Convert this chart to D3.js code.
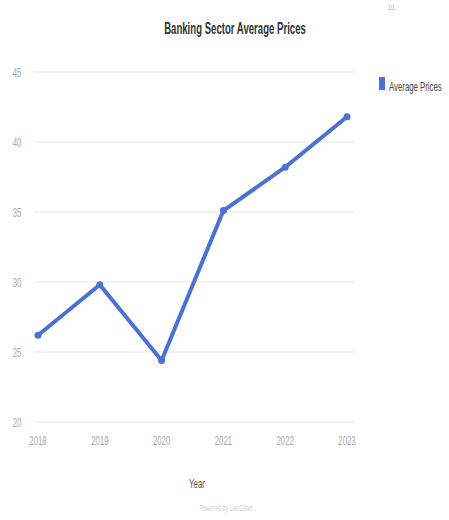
<!DOCTYPE html>
<html>
<head>
<meta charset="utf-8">
<script src="https://cdn.jsdelivr.net/npm/d3@7"></script>
<style>
	body { margin: 0; background: #fff; }
	text { font-family: "Liberation Sans", Arial, sans-serif; }
</style>
</head>
<body>
<div id="chart"></div>
<script>
	var years = ["2018", "2019", "2020", "2021", "2022", "2023"];
	var prices = [26.2, 29.8, 24.4, 35.1, 38.2, 41.8];
	var yTicks = [20, 25, 30, 35, 40, 45];
	var seriesName = "Average Prices";

	var width = 449, height = 520;
	var margin = { top: 72, right: 102, bottom: 98, left: 38 };
	var squeeze = 0.6; //reference text looks horizontally condensed

	var svg = d3.select("#chart").append("svg")
		.attr("width", width)
		.attr("height", height);

	var x = d3.scalePoint()
		.domain(years)
		.range([margin.left, width - margin.right]);

	var y = d3.scaleLinear()
		.domain([20, 45])
		.range([height - margin.bottom, margin.top]);

	var color = "#4a72d2";

	//Place a condensed text at (px, py)
	function squished(sel, px, py) {
		return sel.attr("transform", "translate(" + px + "," + py + ") scale(" + squeeze + ",1)");
	}

	//Gridlines
	svg.append("g").selectAll("line")
		.data(yTicks)
		.enter().append("line")
		.attr("x1", margin.left - 4)
		.attr("x2", width - margin.right + 8)
		.attr("y1", function(d) { return y(d); })
		.attr("y2", function(d) { return y(d); })
		.style("stroke", "#e8e8e8")
		.style("stroke-width", 1);

	//Y labels
	svg.append("g").selectAll("text")
		.data(yTicks)
		.enter().append("text")
		.attr("transform", function(d) { return "translate(17," + (y(d) + 5) + ") scale(" + squeeze + ",1)"; })
		.style("text-anchor", "middle")
		.style("font-size", "13px")
		.style("fill", "#a8a8a8")
		.text(function(d) { return d; });

	//X labels
	svg.append("g").selectAll("text")
		.data(years)
		.enter().append("text")
		.attr("transform", function(d) { return "translate(" + x(d) + "," + (y(20) + 23) + ") scale(" + squeeze + ",1)"; })
		.style("text-anchor", "middle")
		.style("font-size", "13px")
		.style("fill", "#a8a8a8")
		.text(function(d) { return d; });

	//Line
	var line = d3.line()
		.x(function(d, i) { return x(years[i]); })
		.y(function(d) { return y(d); });

	svg.append("path")
		.datum(prices)
		.attr("d", line)
		.style("fill", "none")
		.style("stroke", color)
		.style("stroke-width", 4)
		.style("stroke-linejoin", "round");

	svg.append("g").selectAll("circle")
		.data(prices)
		.enter().append("circle")
		.attr("cx", function(d, i) { return x(years[i]); })
		.attr("cy", function(d) { return y(d); })
		.attr("r", 3.5)
		.style("fill", color);

	//Title
	squished(svg.append("text"), 235, 34)
		.style("text-anchor", "middle")
		.style("font-size", "16px")
		.style("font-weight", "bold")
		.style("fill", "#333")
		.text("Banking Sector Average Prices");

	//Axis title
	squished(svg.append("text"), 197, 488)
		.style("text-anchor", "middle")
		.style("font-size", "13px")
		.style("fill", "#555")
		.text("Year");

	squished(svg.append("text"), 226, 511)
		.style("text-anchor", "middle")
		.style("font-size", "9px")
		.style("fill", "#d0d0d0")
		.text("Powered by LiveChart");

	//Legend
	svg.append("rect")
		.attr("x", 379)
		.attr("y", 77)
		.attr("width", 6)
		.attr("height", 13)
		.style("fill", color);

	squished(svg.append("text"), 389, 91)
		.style("font-size", "13px")
		.style("fill", "#444")
		.text(seriesName);

	squished(svg.append("text"), 388, 10)
		.style("font-size", "8px")
		.style("fill", "#999")
		.text("1/1");
</script>
</body>
</html>
